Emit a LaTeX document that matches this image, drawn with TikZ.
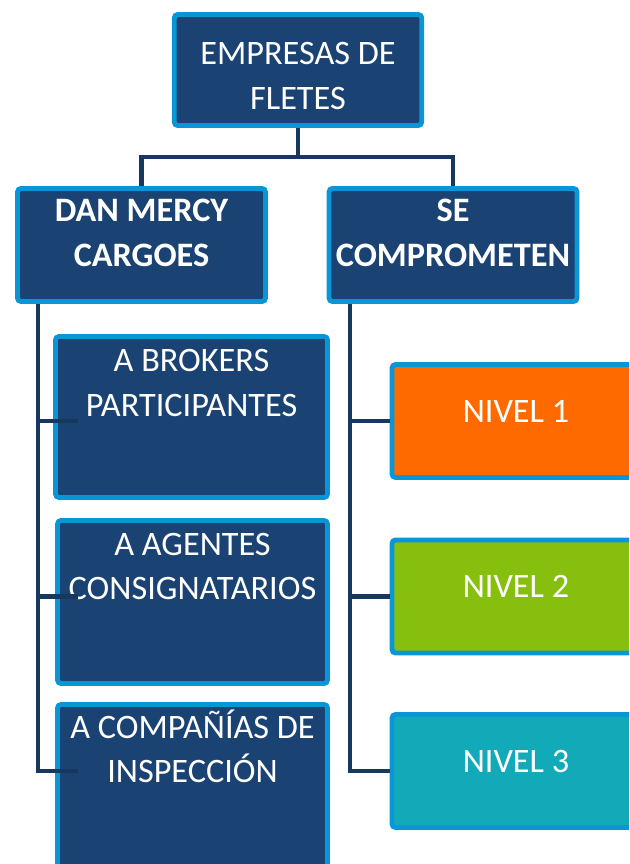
\documentclass[tikz,border=0pt]{standalone}
\usepackage{fontspec}
\setmainfont{Carlito}
\usetikzlibrary{positioning}
\definecolor{boxblue}{HTML}{1A4272}
\definecolor{edgeblue}{HTML}{0A96D6}
\definecolor{linkblue}{HTML}{17375E}
\definecolor{orangelvl}{HTML}{FF6A00}
\definecolor{greenlvl}{HTML}{86BF0D}
\definecolor{teallvl}{HTML}{12A9B9}

\begin{document}
\begin{tikzpicture}[x=0.02cm, y=-0.02cm,
  box/.style={draw=edgeblue, line width=2.8pt, fill=boxblue, rounded corners=2pt,
    text=white, align=flush center, inner sep=0pt, font=\fontsize{19.5}{25.5}\selectfont},
  head/.style={box, font=\fontsize{19.5}{25.5}\selectfont\bfseries},
  level/.style={box, minimum width=4.96cm, minimum height=2.26cm, text depth=0.4cm},
  txt/.style={text=white, align=flush center, inner sep=0pt, text width=5.4cm,
    font=\fontsize{19.5}{25.5}\selectfont},
  link/.style={draw=linkblue, line width=2.8pt}]
\useasboundingbox (0,0) rectangle (629,864);
\clip (0,0) rectangle (629,864);

% top of the chart
\node[box, minimum width=4.95cm, minimum height=2.22cm, text height=1.58cm] (empresas) at (298,70) {EMPRESAS DE\\FLETES};
\node[head, minimum width=4.96cm, minimum height=2.26cm, text depth=0.5cm] (danmercy) at (141.5,245) {DAN MERCY\\CARGOES};
\node[head, minimum width=4.96cm, minimum height=2.26cm, text depth=0.5cm] (compromiso) at (453,245) {SE\\COMPROMETEN};

% left branch
\node[box, minimum width=5.44cm, minimum height=3.22cm] (brokers) at (191.5,417) {};
\node[box, minimum width=5.40cm, minimum height=3.26cm] (agentes) at (192.5,602) {};
\node[box, minimum width=5.40cm, minimum height=3.26cm] (inspeccion) at (192.5,786) {};
\node[txt, anchor=north] (brokerstxt) at ([yshift=-0.3cm]brokers.north) {A BROKERS\\PARTICIPANTES};
\node[txt, anchor=north] (agentestxt) at ([yshift=-0.29cm]agentes.north) {A AGENTES\\CONSIGNATARIOS};
\node[txt, anchor=north] (inspecciontxt) at ([yshift=-0.14cm]inspeccion.north) {A COMPAÑÍAS DE\\INSPECCIÓN};

% right branch
\node[level, fill=orangelvl] (nivel1) at (516,421) {NIVEL 1};
\node[level, fill=greenlvl] (nivel2) at (516,596.5) {NIVEL 2};
\node[level, fill=teallvl] (nivel3) at (516,771) {NIVEL 3};

% connectors
\coordinate (split) at (298,157);
\coordinate (lefttrunk) at (38,0);
\coordinate (righttrunk) at (350,0);
\draw[link] (empresas.south) -- (split) -| (danmercy.north);
\draw[link] (split) -| (compromiso.north);
\draw[link] (danmercy.south -| lefttrunk) -- (lefttrunk |- nivel3.west) -- ([xshift=0.46cm]inspeccion.west |- nivel3.west);
\draw[link] (lefttrunk |- nivel1.west) -- ([xshift=0.5cm]brokers.west |- nivel1.west);
\draw[link] (lefttrunk |- nivel2.west) -- ([xshift=0.46cm]agentes.west |- nivel2.west);
\draw[link] (compromiso.south -| righttrunk) -- (righttrunk |- nivel3.west) -- (nivel3.west);
\draw[link] (righttrunk |- nivel1.west) -- (nivel1.west);
\draw[link] (righttrunk |- nivel2.west) -- (nivel2.west);
\end{tikzpicture}
\end{document}
